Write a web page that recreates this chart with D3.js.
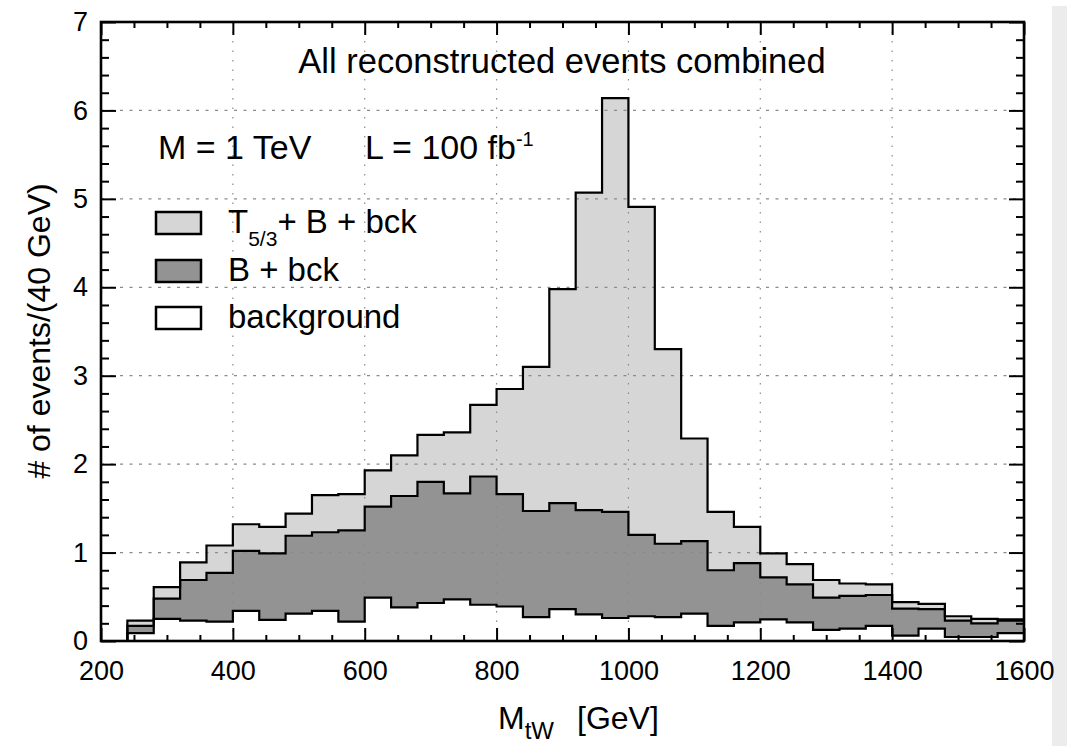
<!DOCTYPE html>
<html>
<head>
<meta charset="utf-8">
<script src="https://cdn.jsdelivr.net/npm/d3@7"></script>
<style>
  body { margin: 0; background: #fff; }
  svg { display: block; font-family: "Liberation Sans", Arial, sans-serif; }
</style>
</head>
<body>
<svg width="1067" height="746"></svg>
<script>
const width = 1067;
const height = 746;

// bin edges in GeV (40 GeV bins)
const binEdges = [240, 280, 320, 360, 400, 440, 480, 520, 560, 600, 640, 680, 720, 760, 800,
    840, 880, 920, 960, 1000, 1040, 1080, 1120, 1160, 1200, 1240, 1280, 1320, 1360, 1400,
    1440, 1480, 1520, 1560, 1600];

// T5/3 + B + bck
const totalVals = [0.23, 0.61, 0.89, 1.08, 1.32, 1.29, 1.44, 1.65, 1.66, 1.93, 2.10, 2.33,
    2.36, 2.67, 2.85, 3.10, 3.98, 5.07, 6.14, 4.91, 3.30, 2.29, 1.46, 1.29, 0.99, 0.87,
    0.69, 0.65, 0.64, 0.44, 0.42, 0.28, 0.25, 0.245];

// B + bck
const bVals = [0.17, 0.48, 0.69, 0.77, 1.02, 0.99, 1.19, 1.23, 1.25, 1.52, 1.64, 1.80,
    1.67, 1.86, 1.66, 1.47, 1.56, 1.48, 1.46, 1.20, 1.10, 1.13, 0.80, 0.88, 0.72, 0.64,
    0.49, 0.51, 0.52, 0.365, 0.36, 0.23, 0.20, 0.23];

// background
const bkgVals = [0.09, 0.25, 0.23, 0.22, 0.34, 0.24, 0.31, 0.34, 0.22, 0.49, 0.38, 0.43,
    0.47, 0.41, 0.39, 0.27, 0.36, 0.30, 0.26, 0.28, 0.27, 0.31, 0.17, 0.21, 0.245, 0.21,
    0.125, 0.14, 0.17, 0.06, 0.14, 0.045, 0.045, 0.09];

const xTicks = [200, 400, 600, 800, 1000, 1200, 1400, 1600];
const xMinorTicks = [250, 300, 350, 450, 500, 550, 650, 700, 750, 850, 900, 950, 1050, 1100,
    1150, 1250, 1300, 1350, 1450, 1500, 1550];
const yTicks = [0, 1, 2, 3, 4, 5, 6, 7];
const yMinorTicks = [0.2, 0.4, 0.6, 0.8, 1.2, 1.4, 1.6, 1.8, 2.2, 2.4, 2.6, 2.8, 3.2, 3.4,
    3.6, 3.8, 4.2, 4.4, 4.6, 4.8, 5.2, 5.4, 5.6, 5.8, 6.2, 6.4, 6.6, 6.8];

const lightFill = '#d6d6d6';
const darkFill = '#939393';

const svg = d3.select('svg');

// textured grey strip at the right edge of the page
svg.append('rect')
    .attr('x', 1052).attr('y', 6)
    .attr('width', 15).attr('height', height - 6)
    .attr('fill', '#ececec');

const margin = { top: 22, bottom: 105, left: 101, right: 43 };
const innerWidth = width - margin.left - margin.right;
const innerHeight = height - margin.top - margin.bottom;

const xScale = d3.scaleLinear().domain([200, 1600]).range([0, innerWidth]);
const yScale = d3.scaleLinear().domain([0, 7]).range([innerHeight, 0]);

const g = svg.append('g')
    .attr('transform', 'translate(' + margin.left + ', ' + margin.top + ')');

const steps = vals => {
    const pts = [{ x: binEdges[0], y: 0 }];
    vals.forEach((v, i) => pts.push({ x: binEdges[i], y: v }));
    pts.push({ x: binEdges[binEdges.length - 1], y: vals[vals.length - 1] });
    return pts;
};

const area = d3.area()
    .x(d => xScale(d.x))
    .y0(yScale(0))
    .y1(d => yScale(d.y))
    .curve(d3.curveStepAfter);

const line = d3.line()
    .x(d => xScale(d.x))
    .y(d => yScale(d.y))
    .curve(d3.curveStepAfter);

const series = [
    { vals: totalVals, fill: lightFill },
    { vals: bVals, fill: darkFill },
    { vals: bkgVals, fill: '#fff' }
];

g.selectAll('.fill')
    .data(series)
    .enter().append('path')
    .attr('class', 'fill')
    .attr('d', d => area(steps(d.vals)))
    .attr('fill', d => d.fill);

// dotted grid
g.append('g').selectAll('line')
    .data(xTicks.slice(1, -1))
    .enter().append('line')
    .attr('x1', d => xScale(d)).attr('x2', d => xScale(d))
    .attr('y1', 0).attr('y2', innerHeight)
    .attr('stroke', '#8a8a8a').attr('stroke-width', 1.2)
    .attr('stroke-dasharray', '1.5,8');

g.append('g').selectAll('line')
    .data(yTicks.slice(1, -1))
    .enter().append('line')
    .attr('y1', d => yScale(d)).attr('y2', d => yScale(d))
    .attr('x1', 0).attr('x2', innerWidth)
    .attr('stroke', '#8a8a8a').attr('stroke-width', 1.2)
    .attr('stroke-dasharray', '3,6.5');

g.selectAll('.outline')
    .data(series)
    .enter().append('path')
    .attr('class', 'outline')
    .attr('d', d => line(steps(d.vals)))
    .attr('fill', 'none')
    .attr('stroke', '#000')
    .attr('stroke-width', 2.2);

// axes with inward ticks
const tickStyle = sel => {
    sel.select('.domain').remove();
    sel.selectAll('.tick line').attr('stroke', '#000').attr('stroke-width', 2);
};
const labelStyle = sel => sel.selectAll('text')
    .attr('font-size', 27).attr('fill', '#000')
    .attr('font-family', '"Liberation Sans", Arial, sans-serif');

g.append('g')
    .attr('transform', 'translate(0, ' + innerHeight + ')')
    .call(d3.axisBottom(xScale).tickValues(xTicks).tickFormat(d3.format('d'))
        .tickSizeInner(-13).tickPadding(20))
    .call(tickStyle)
    .call(labelStyle);

g.append('g')
    .attr('transform', 'translate(0, ' + innerHeight + ')')
    .call(d3.axisBottom(xScale).tickValues(xMinorTicks).tickSizeInner(-6).tickFormat(''))
    .call(tickStyle);

g.append('g')
    .call(d3.axisTop(xScale).tickValues(xTicks).tickSizeInner(-13).tickFormat(''))
    .call(tickStyle);

g.append('g')
    .call(d3.axisTop(xScale).tickValues(xMinorTicks).tickSizeInner(-6).tickFormat(''))
    .call(tickStyle);

g.append('g')
    .call(d3.axisLeft(yScale).tickValues(yTicks).tickFormat(d3.format('d'))
        .tickSizeInner(-15).tickPadding(13))
    .call(tickStyle)
    .call(labelStyle);

g.append('g')
    .call(d3.axisLeft(yScale).tickValues(yMinorTicks).tickSizeInner(-8).tickFormat(''))
    .call(tickStyle);

g.append('g')
    .attr('transform', 'translate(' + innerWidth + ', 0)')
    .call(d3.axisRight(yScale).tickValues(yTicks).tickSizeInner(-15).tickFormat(''))
    .call(tickStyle);

g.append('g')
    .attr('transform', 'translate(' + innerWidth + ', 0)')
    .call(d3.axisRight(yScale).tickValues(yMinorTicks).tickSizeInner(-8).tickFormat(''))
    .call(tickStyle);

// frame
g.append('rect')
    .attr('width', innerWidth).attr('height', innerHeight)
    .attr('fill', 'none').attr('stroke', '#000').attr('stroke-width', 2.6);

// annotations
svg.append('text')
    .attr('x', 562).attr('y', 73)
    .attr('text-anchor', 'middle')
    .attr('font-size', 34.5)
    .text('All reconstructed events combined');

svg.append('text')
    .attr('x', 158).attr('y', 159)
    .attr('font-size', 34)
    .text('M = 1 TeV');

const lumi = svg.append('text')
    .attr('x', 365).attr('y', 159)
    .attr('font-size', 34);
lumi.append('tspan').text('L = 100 fb');
lumi.append('tspan').attr('font-size', 20).attr('dy', -13).text('-1');

// legend
const legendItems = [
    { fill: lightFill, y: 212 },
    { fill: darkFill, y: 260 },
    { fill: '#fff', y: 307 }
];
svg.selectAll('.legbox')
    .data(legendItems)
    .enter().append('rect')
    .attr('class', 'legbox')
    .attr('x', 156).attr('y', d => d.y)
    .attr('width', 45).attr('height', 22)
    .attr('fill', d => d.fill)
    .attr('stroke', '#000').attr('stroke-width', 2.5);

const leg1 = svg.append('text').attr('x', 228).attr('y', 233).attr('font-size', 33);
leg1.append('tspan').text('T');
leg1.append('tspan').attr('font-size', 21).attr('dy', 13).text('5/3');
leg1.append('tspan').attr('dy', -13).text('+ B + bck');

svg.append('text').attr('x', 228).attr('y', 281).attr('font-size', 33).text('B + bck');
svg.append('text').attr('x', 228).attr('y', 328).attr('font-size', 33).text('background');

// axis titles
const xTitle = svg.append('text').attr('x', 498).attr('y', 729).attr('font-size', 32);
xTitle.append('tspan').text('M');
xTitle.append('tspan').attr('font-size', 24).attr('dy', 10).text('tW');
xTitle.append('tspan').attr('x', 577).attr('dy', -10).text('[GeV]');

svg.append('text')
    .attr('transform', 'translate(50, 331) rotate(-90)')
    .attr('text-anchor', 'middle')
    .attr('font-size', 32)
    .text('# of events/(40 GeV)');
</script>
</body>
</html>
